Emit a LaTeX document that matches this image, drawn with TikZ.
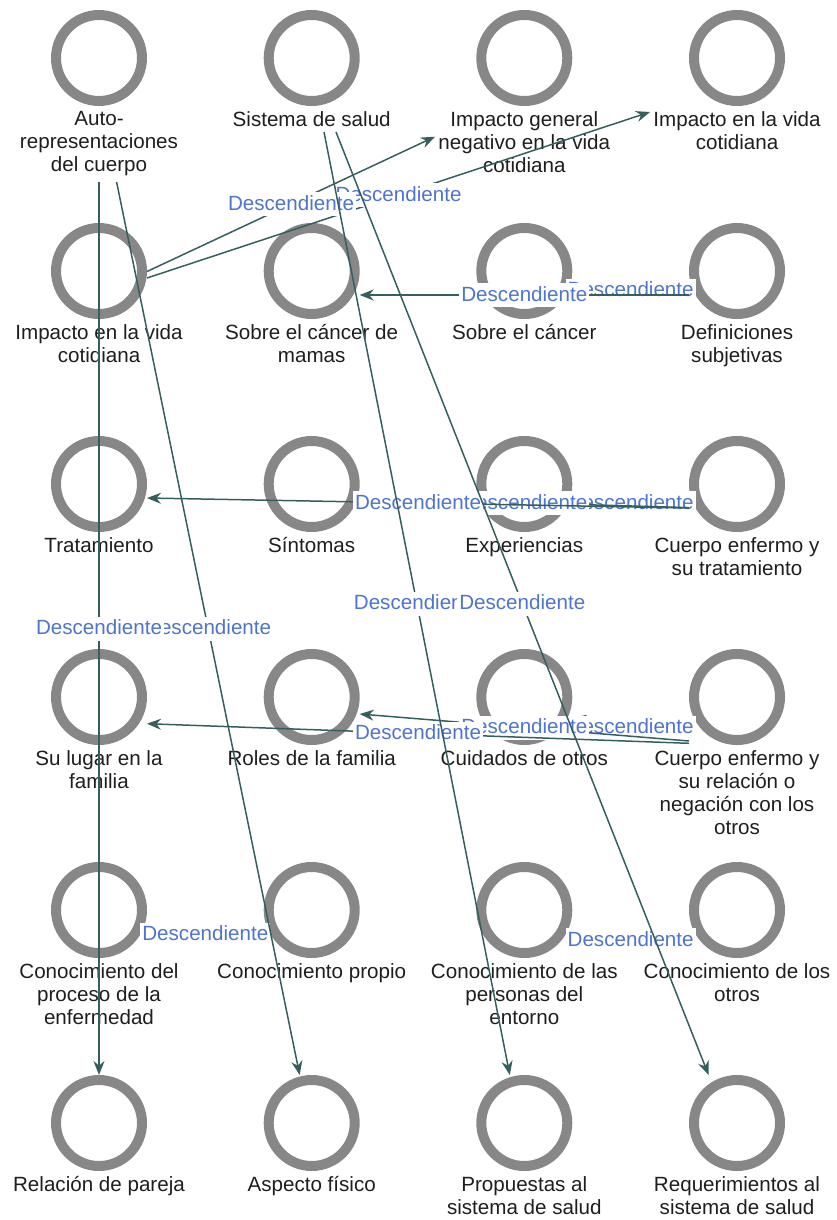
\documentclass[tikz,border=0pt]{standalone}
\usepackage{fontspec}
\setmainfont{Liberation Sans}
\usetikzlibrary{arrows.meta,calc}
\definecolor{ringgray}{HTML}{878787}
\definecolor{linkteal}{HTML}{355F5F}
\definecolor{relblue}{HTML}{4F74CF}
\definecolor{labelink}{HTML}{1E1E1E}

\begin{document}
\begin{tikzpicture}[x=0.5pt,y=-0.5pt,
  code/.style={circle, draw=ringgray, line width=5pt, minimum size=43pt, inner sep=0pt},
  caption/.style={anchor=north, align=center, inner sep=0pt, text=labelink,
                  font=\fontsize{10.3}{11.5}\selectfont},
  link/.style={draw=linkteal, line width=0.75pt, -{Stealth[length=7pt,width=5.5pt]}},
  rel/.style={fill=white, text=relblue, inner xsep=1pt, inner ysep=1pt,
              text height=8pt, text depth=2pt, font=\fontsize{10.3}{11.5}\selectfont}]
\useasboundingbox (0,0) rectangle (836,1220);

% ---- codes: ring + caption ----
% row 1
\node[code] (c11) at (99,58) {};
\node[caption] (t11) at (99,111) {Auto-\\representaciones\\del cuerpo};
\node[code] (c12) at (311.7,58) {};
\node[caption] (t12) at (311.7,111) {Sistema de salud};
\node[code] (c13) at (524.3,58) {};
\node[caption] (t13) at (524.3,111) {Impacto general\\negativo en la vida\\cotidiana};
\node[code] (c14) at (737,58) {};
\node[caption] (t14) at (737,111) {Impacto en la vida\\cotidiana};
% row 2
\node[code] (c21) at (99,271) {};
\node[caption] (t21) at (99,324) {Impacto en la vida\\cotidiana};
\node[code] (c22) at (311.7,271) {};
\node[caption] (t22) at (311.7,324) {Sobre el cáncer de\\mamas};
\node[code] (c23) at (524.3,271) {};
\node[caption] (t23) at (524.3,324) {Sobre el cáncer};
\node[code] (c24) at (737,271) {};
\node[caption] (t24) at (737,324) {Definiciones\\subjetivas};
% row 3
\node[code] (c31) at (99,484) {};
\node[caption] (t31) at (99,537) {Tratamiento};
\node[code] (c32) at (311.7,484) {};
\node[caption] (t32) at (311.7,537) {Síntomas};
\node[code] (c33) at (524.3,484) {};
\node[caption] (t33) at (524.3,537) {Experiencias};
\node[code] (c34) at (737,484) {};
\node[caption] (t34) at (737,537) {Cuerpo enfermo y\\su tratamiento};
% row 4
\node[code] (c41) at (99,697) {};
\node[caption] (t41) at (99,750) {Su lugar en la\\familia};
\node[code] (c42) at (311.7,697) {};
\node[caption] (t42) at (311.7,750) {Roles de la familia};
\node[code] (c43) at (524.3,697) {};
\node[caption] (t43) at (524.3,750) {Cuidados de otros};
\node[code] (c44) at (737,697) {};
\node[caption] (t44) at (737,750) {Cuerpo enfermo y\\su relación o\\negación con los\\otros};
% row 5
\node[code] (c51) at (99,910) {};
\node[caption] (t51) at (99,963) {Conocimiento del\\proceso de la\\enfermedad};
\node[code] (c52) at (311.7,910) {};
\node[caption] (t52) at (311.7,963) {Conocimiento propio};
\node[code] (c53) at (524.3,910) {};
\node[caption] (t53) at (524.3,963) {Conocimiento de las\\personas del\\entorno};
\node[code] (c54) at (737,910) {};
\node[caption] (t54) at (737,963) {Conocimiento de los\\otros};
% row 6
\node[code] (c61) at (99,1123) {};
\node[caption] (t61) at (99,1176) {Relación de pareja};
\node[code] (c62) at (311.7,1123) {};
\node[caption] (t62) at (311.7,1176) {Aspecto físico};
\node[code] (c63) at (524.3,1123) {};
\node[caption] (t63) at (524.3,1176) {Propuestas al\\sistema de salud};
\node[code] (c64) at (737,1123) {};
\node[caption] (t64) at (737,1176) {Requerimientos al\\sistema de salud};

% ---- relations ----
% Definiciones subjetivas
\draw[link] ($(c24)+(-48,22.5)$) -- node[rel]{Descendiente} ($(c23)+(48,16.5)$);
\draw[link] ($(c24)+(-48,24)$) -- node[rel]{Descendiente} ($(c22)+(48,24)$);
% Cuerpo enfermo y su tratamiento
\draw[link] ($(c34)+(-48,22.3)$) -- node[rel]{Descendiente} ($(c33)+(48,15.7)$);
\draw[link] ($(c34)+(-48,23.6)$) -- node[rel]{Descendiente} ($(c32)+(48,14.4)$);
\draw[link] ($(c34)+(-48,24)$) -- node[rel]{Descendiente} ($(c31)+(48,14)$);
% Cuerpo enfermo y su relacion o negacion con los otros
\draw[link] ($(c44)+(-48,40)$) -- node[rel]{Descendiente} ($(c43)+(48,21)$);
\draw[link] ($(c44)+(-48,44)$) -- node[rel]{Descendiente} ($(c42)+(48,17)$);
\draw[link] ($(c44)+(-48,46.3)$) -- node[rel]{Descendiente} ($(c41)+(48,26.7)$);
% Conocimiento
\draw[link] ($(c52)+(-48,18.2)$) -- node[rel]{Descendiente} ($(c51)+(48,30.8)$);
\draw[link] ($(c54)+(-48,27.1)$) -- node[rel]{Descendiente} ($(c53)+(48,33.4)$);
% Impacto en la vida cotidiana
\draw[link] ($(c21)+(48,7)$) -- node[rel]{Descendiente} ($(c14)+(-87,54)$);
\draw[link] ($(c21)+(48,0.5)$) -- node[rel]{Descendiente} ($(c13)+(-89.3,78.7)$);
% Auto-representaciones del cuerpo
\draw[link] ($(c11)+(17.6,124)$) -- node[rel]{Descendiente} ($(c62)+(-12,-48)$);
\draw[link] ($(c11)+(0,124)$) -- node[rel]{Descendiente} (c61.north);
% Sistema de salud
\draw[link] ($(c12)+(12.3,74)$) -- node[rel]{Descendiente} ($(c63)+(-14.5,-48)$);
\draw[link] ($(c12)+(24.3,74)$) -- node[rel]{Descendiente} ($(c64)+(-28.4,-48)$);
\end{tikzpicture}
\end{document}
